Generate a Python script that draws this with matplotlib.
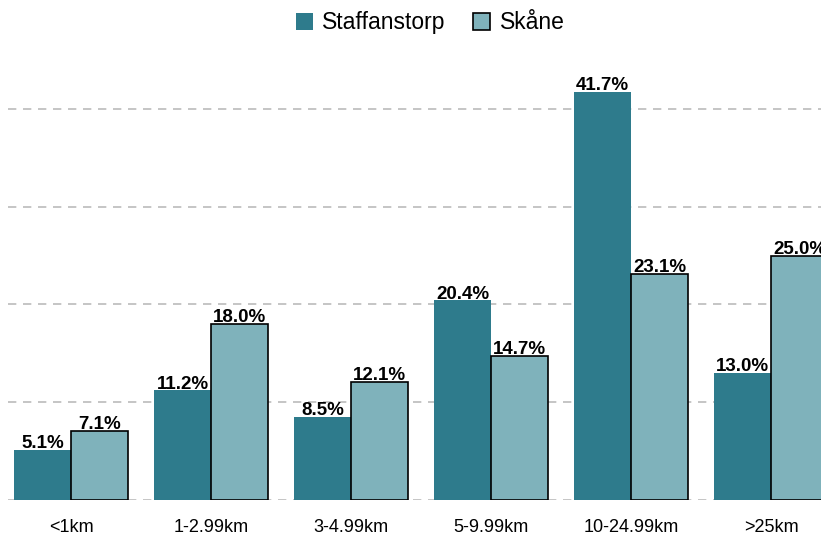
import matplotlib
matplotlib.use("Agg")
import matplotlib.pyplot as plt
import numpy as np

categories = ["<1km", "1-2.99km", "3-4.99km", "5-9.99km", "10-24.99km", ">25km"]
staffanstorp = [5.1, 11.2, 8.5, 20.4, 41.7, 13.0]
skane = [7.1, 18.0, 12.1, 14.7, 23.1, 25.0]
series_names = ["Staffanstorp", "Skåne"]

plt.rcParams['font.family'] = ['Liberation Sans', 'DejaVu Sans']

fig = plt.figure(figsize=(8.21, 5.35), dpi=100)
ax = fig.add_axes([8/821, 35/535, 1 - 8/821, 445/535])

x = np.arange(len(categories))
w = 57/140
dark = "#2e7b8c"
light = "#7fb2bb"
b1 = ax.bar(x - w/2, staffanstorp, w, color=dark, edgecolor=dark, linewidth=0, label=series_names[0], zorder=3)
b2 = ax.bar(x + w/2, skane, w, color=light, edgecolor="black", linewidth=1.2, label=series_names[1], zorder=3)

for bars, vals in ((b1, staffanstorp), (b2, skane)):
    for r, v in zip(bars, vals):
        ax.text(r.get_x() + r.get_width()/2, v + 0.2, f"{v:.1f}%", ha="center", va="baseline",
                fontsize=13.5, fontweight="bold", color="black", zorder=4, clip_on=False)

ax.set_xlim(-0.45, (821 - 71)/140)
ax.set_ylim(0, 445/9.78)
ax.set_yticks([0, 10, 20, 30, 40])
ax.yaxis.grid(True, linestyle=(0, (5, 4)), color="#bbbbbb", linewidth=1.2, zorder=0)
ax.set_yticklabels([])
ax.tick_params(axis="y", length=0)
ax.tick_params(axis="x", length=0, labelsize=13, pad=14)
ax.set_xticks(x)
ax.set_xticklabels(categories)
for s in ax.spines.values():
    s.set_visible(False)

fig.legend(handles=[b1, b2], labels=series_names, loc="upper center", bbox_to_anchor=(0.524, 1.0),
           ncol=2, frameon=False, fontsize=16.5, handlelength=0.75, handleheight=0.75,
           handletextpad=0.4, columnspacing=1.2, borderaxespad=0.1)

fig.savefig("out.png", dpi=100)
